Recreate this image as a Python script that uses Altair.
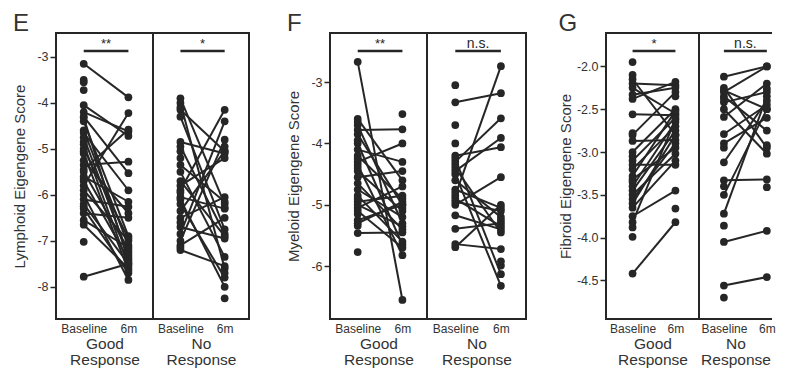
import altair as alt
import pandas as pd

# ---------------- data ----------------
# Panel E - Lymphoid eigengene score
E_good_base = [-3.15, -4.05, -4.2, -4.3, -4.32, -4.4, -4.6, -4.65, -4.75, -4.9, -5.0, -5.1, -5.25, -5.35,
               -5.5, -5.6, -5.7, -5.8, -5.9, -6.0, -6.1, -6.2, -6.3, -6.4, -6.55, -6.65, -7.78, -5.45]
E_good_6m = [-3.88, -4.72, -4.62, -5.53, -7.45, -6.9, -7.1, -5.9, -7.3, -7.55, -6.95, -7.65, -6.4, -5.28,
             -7.2, -6.15, -7.4, -4.22, -7.0, -7.85, -6.26, -7.5, -7.7, -6.5, -7.15, -7.6, -7.5, -4.58]
E_good_base_only = [-3.5, -3.55, -3.72, -4.85, -5.05, -5.65, -6.25, -7.02]
E_good_6m_only = [-7.25, -7.35]

E_no_base = [-3.9, -4.0, -4.15, -4.3, -4.85, -4.95, -5.35, -5.5, -5.7, -5.8, -5.9, -6.05, -6.1, -6.2,
             -6.35, -6.5, -6.7, -7.0, -7.1, -7.2, -6.85]
E_no_6m = [-6.2, -7.6, -5.05, -6.75, -5.1, -6.85, -6.15, -7.35, -6.9, -5.2, -4.15, -6.3, -8.0, -7.8,
           -5.05, -6.05, -6.95, -4.8, -6.5, -7.55, -4.4]
E_no_base_only = [-4.1, -5.05, -5.2, -5.95, -6.6, -7.15]
E_no_6m_only = [-8.25, -7.7, -4.95, -6.28]

# Panel F - Myeloid eigengene score
F_good_base = [-2.67, -3.78, -3.6, -3.7, -3.85, -4.0, -4.1, -4.2, -4.3, -4.35, -4.45, -4.55, -4.65, -4.75,
               -4.85, -4.95, -5.0, -5.05, -5.1, -5.25, -5.3, -5.46]
F_good_6m = [-6.55, -3.77, -4.6, -5.3, -5.0, -5.65, -4.3, -4.9, -4.0, -5.82, -5.1, -4.45, -5.4, -5.2,
             -5.6, -4.85, -5.35, -4.7, -5.7, -5.0, -4.95, -5.45]
F_good_base_only = [-3.65, -3.95, -4.25, -4.4, -4.9, -5.15, -5.34, -5.77]
F_good_6m_only = [-3.52, -5.05]

F_no_base = [-3.33, -4.85, -4.3, -4.45, -4.2, -5.0, -5.69, -5.64, -5.39, -5.17, -4.5, -4.6, -4.75, -4.9,
             -4.95, -4.4, -4.25]
F_no_6m = [-3.18, -2.74, -3.59, -3.91, -4.06, -4.55, -5.0, -5.72, -5.3, -5.4, -6.32, -5.2, -5.05, -5.35,
           -5.1, -5.45, -6.13]
F_no_base_only = [-3.05, -3.7, -4.0, -4.35, -4.8]
F_no_6m_only = [-5.92, -5.99, -5.25]

# Panel G - Fibroid eigengene score
G_good_base = [-2.2, -2.25, -2.38, -2.33, -2.15, -2.56, -2.8, -2.87, -3.0, -3.1, -3.15, -3.2, -3.28, -3.32,
               -3.4, -3.45, -3.5, -3.55, -3.6, -3.65, -3.75, -3.82, -4.42]
G_good_6m = [-2.22, -2.55, -2.18, -2.25, -2.8, -2.57, -2.3, -2.86, -2.5, -2.6, -3.15, -2.7, -2.52, -2.95,
             -2.65, -2.75, -3.02, -2.9, -2.8, -3.1, -3.45, -2.62, -3.82]
G_good_base_only = [-1.95, -2.1, -2.78, -3.05, -3.35, -3.88, -3.99]
G_good_6m_only = [-3.66, -2.35]

G_no_base = [-2.12, -4.56, -4.05, -3.33, -3.72, -3.5, -2.25, -2.3, -2.35, -2.42, -2.59, -2.5, -2.79, -2.9,
             -3.12, -2.28]
G_no_6m = [-2.0, -4.46, -3.92, -3.32, -2.35, -2.5, -2.95, -2.0, -2.75, -2.3, -2.2, -3.02, -2.45, -2.6,
           -2.4, -2.5]
G_no_base_only = [-2.38, -2.95, -3.4, -3.86, -4.7]
G_no_6m_only = [-3.41, -2.92, -2.26]

time_labels = ["Baseline", "6m"]
group_titles = [["Good", "Response"], ["No", "Response"]]
sig_E = ["**", "*"]
sig_F = ["**", "n.s."]
sig_G = ["*", "n.s."]

INK = "#262626"
TXT = "#333333"
FONT = "Liberation Sans"
H = 286


def make_df(base, six, base_only, six_only):
    rows = []
    for i, (b, s) in enumerate(zip(base, six)):
        rows.append({"id": f"p{i}", "t": 0, "v": b})
        rows.append({"id": f"p{i}", "t": 1, "v": s})
    for j, b in enumerate(base_only):
        rows.append({"id": f"b{j}", "t": 0, "v": b})
    for j, s in enumerate(six_only):
        rows.append({"id": f"s{j}", "t": 1, "v": s})
    return pd.DataFrame(rows)


def sub(df, ydomain, width, sig, gtitle, letter, show_y, ytitle=None, yvals=None, yfmt="d",
        tpad=9, xdomain=(-0.62, 1.55), open_right=False):
    xs = alt.Scale(domain=list(xdomain), nice=False, zero=False)
    ys = alt.Scale(domain=ydomain, nice=False, zero=False)
    xaxis = alt.Axis(values=[0, 1],
                     labelExpr=f"datum.value == 0 ? '{time_labels[0]}' : '{time_labels[1]}'",
                     title=gtitle, ticks=False, domain=False, labelPadding=4,
                     labelFontSize=12, titleFontSize=15.5, titleFontWeight="normal",
                     titlePadding=2, titleLineHeight=16, labelColor=TXT, titleColor=TXT)
    if show_y:
        yaxis = alt.Axis(values=yvals,
                         labelExpr=f"datum.value < 0 ? '-' + format(abs(datum.value), '{yfmt}') : format(datum.value, '{yfmt}')",
                         title=ytitle, tickSize=6, tickWidth=1.5, tickColor=INK, labelPadding=2,
                         titlePadding=tpad, domain=False, labelFontSize=12.5, titleFontSize=15,
                         titleFontWeight="normal", labelColor=TXT, titleColor=TXT)
    else:
        yaxis = None
    base = alt.Chart(df)
    x = alt.X("t:Q", scale=xs, axis=xaxis)
    y = alt.Y("v:Q", scale=ys, axis=yaxis)
    lines = base.mark_line(color=INK, strokeWidth=2).encode(x=x, y=y, detail="id:N")
    pts = base.mark_circle(color=INK, opacity=1, size=60).encode(x=x, y=y)
    sdf = pd.DataFrame({"a": [0], "b": [1], "lab": [sig]})
    rule = alt.Chart(sdf).mark_rule(color=INK, strokeWidth=2.5).encode(
        x=alt.X("a:Q", scale=xs, axis=xaxis), x2="b:Q", y=alt.value(18))
    big = sig == "n.s."
    txt = alt.Chart(sdf).transform_calculate(m="(datum.a + datum.b) / 2").mark_text(
        color=INK, fontSize=14 if big else 13, baseline="alphabetic", font=FONT).encode(
        x=alt.X("m:Q", scale=xs, axis=xaxis), y=alt.value(15), text="lab:N")
    layers = [lines, pts, rule, txt]
    if open_right:
        fdf = pd.DataFrame({"k": [0]})
        top = alt.Chart(fdf).mark_rule(color=INK, strokeWidth=2).encode(
            x=alt.value(0), x2=alt.value(width), y=alt.value(0))
        bot = alt.Chart(fdf).mark_rule(color=INK, strokeWidth=2).encode(
            x=alt.value(0), x2=alt.value(width), y=alt.value(H))
        layers += [top, bot]
    props = dict(width=width, height=H)
    if show_y:
        props["title"] = alt.TitleParams(letter, anchor="start", frame="bounds",
                                         fontSize=24, fontWeight="normal", font=FONT,
                                         offset=-3, color=TXT)
    ch = alt.layer(*layers).properties(**props)
    if open_right:
        ch = ch.properties(view=alt.ViewBackground(stroke="transparent"))
    return ch


def panel(letter, good, no, ydomain, widths, sigs, ytitle, yvals, yfmt, tpad,
          no_xdomain=(-0.62, 1.55), open_right=False):
    g = sub(good, ydomain, widths[0], sigs[0], group_titles[0], letter, True, ytitle, yvals, yfmt, tpad)
    n = sub(no, ydomain, widths[1], sigs[1], group_titles[1], letter, False,
            xdomain=no_xdomain, open_right=open_right)
    return alt.hconcat(g, n, spacing=0, bounds="flush")


E = panel("E", make_df(E_good_base, E_good_6m, E_good_base_only, E_good_6m_only),
          make_df(E_no_base, E_no_6m, E_no_base_only, E_no_6m_only),
          [-8.7, -2.48], [97, 96], sig_E, "Lymphoid Eigengene Score",
          [-3, -4, -5, -6, -7, -8], "d", 9)
F = panel("F", make_df(F_good_base, F_good_6m, F_good_base_only, F_good_6m_only),
          make_df(F_no_base, F_no_6m, F_no_base_only, F_no_6m_only),
          [-6.86, -2.2], [97, 99], sig_F, "Myeloid Eigengene Score",
          [-3, -4, -5, -6], "d", 9)
G = panel("G", make_df(G_good_base, G_good_6m, G_good_base_only, G_good_6m_only),
          make_df(G_no_base, G_no_6m, G_no_base_only, G_no_6m_only),
          [-4.95, -1.61], [93, 73], sig_G, "Fibroid Eigengene Score",
          [-2.0, -2.5, -3.0, -3.5, -4.0, -4.5], ".1f", 3,
          no_xdomain=(-0.58, 1.12), open_right=True)

chart = alt.hconcat(alt.hconcat(E, F, spacing=35), G, spacing=30).properties(
    padding={"left": 3, "top": 3, "right": 0, "bottom": 0},
    background="white",
).configure_view(stroke=INK, strokeWidth=2).configure_axis(
    grid=False, labelFont=FONT, titleFont=FONT
).configure_text(font=FONT)

chart.save("out.html", embed_options={"renderer": "svg", "actions": False})
